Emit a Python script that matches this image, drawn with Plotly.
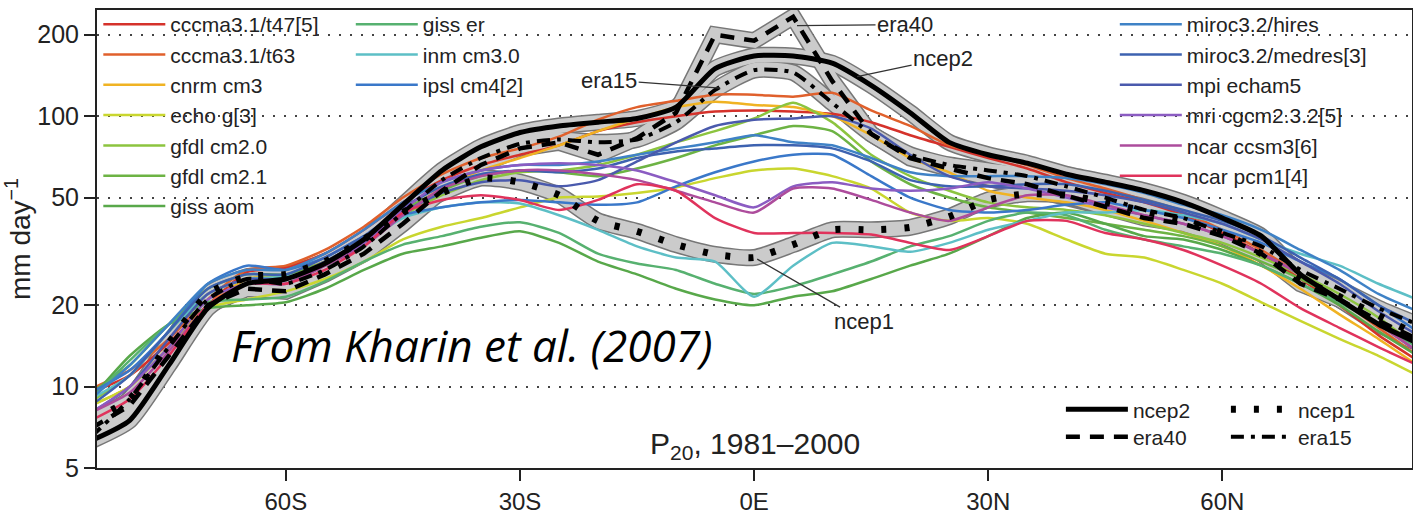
import numpy as np
import plotly.graph_objects as go

# ---------------- data ----------------
lat = [-85, -80, -75, -70, -65, -60, -55, -50, -45, -40, -35, -30, -25, -20, -15, -10, -5, 0,
       5, 10, 15, 20, 25, 30, 35, 40, 45, 50, 55, 60, 65, 70, 75, 80, 85]

x_tickvals = [-60, -30, 0, 30, 60]
x_ticktext = ["60S", "30S", "0E", "30N", "60N"]
y_tickvals = [5, 10, 20, 50, 100, 200]
y_ticktext = ["5", "10", "20", "50", "100", "200"]

# reanalyses
ncep2 = [6.3, 7.5, 12, 19.5, 24, 25, 28.5, 35, 47, 63, 77, 87, 92, 95, 98, 108, 150, 167,
         167, 157, 130, 103, 80, 72, 67, 61, 57, 53, 48, 42, 36, 26, 21, 17, 14.5]
ncep1 = [7.5, 9.0, 14.5, 22, 25.5, 26, 29, 35, 44, 52, 59, 57, 51, 41, 37.5, 33.5, 30.8, 30,
         33.5, 38, 38, 38.8, 42.5, 49, 51.6, 51, 48, 44.5, 41, 37, 31, 25, 21.5, 18.3, 15.5]
era40 = [7.0, 8.5, 13, 20, 23, 22.5, 26, 31, 40, 53, 66, 76, 80, 72, 83, 103, 200, 190,
         233, 135, 86, 70, 64, 59, 56, 51, 46, 42, 40, 36, 31, 24, 21, 17.5, 15]
era15 = [6.5, 9, 14, 21, 25, 24, 27, 33, 44, 58, 70, 79, 82, 80, 82, 95, 125, 148,
         145, 112, 86, 72, 66, 63, 60, 55, 50, 45, 42, 37, 33, 27, 23, 19.5, 17]

# models
cccma_t47 = [9.5, 11, 14.5, 20, 26.5, 27.5, 31, 38, 48, 58, 66, 72, 78, 88, 95, 100, 104, 105,
             104, 102, 95, 85, 77, 70, 64, 57, 52, 48, 43, 37, 31, 25, 20, 15.5, 12.5]
cccma_t63 = [9.8, 11.5, 15, 21, 27, 28, 32, 39, 50, 61, 70, 76, 84, 97, 108, 114, 120, 120,
             118, 122, 105, 92, 78, 72, 66, 59, 54, 49, 44, 38, 32, 26, 21, 16.5, 13]
cnrm_cm3 = [8.5, 10, 14, 20, 25, 26, 29, 35, 44, 54, 63, 70, 78, 88, 98, 108, 113, 110,
            108, 100, 85, 70, 62, 53, 50, 48, 45, 41, 37, 33, 28, 23, 18.5, 15, 12]
echo_g = [8.5, 10, 14, 19.5, 21, 22.5, 25, 29, 35, 39, 42, 46, 50, 50.5, 52, 54.5, 59, 63,
          64, 60, 54, 44, 41, 42, 40, 35, 31, 30, 27, 24, 20.5, 17.5, 15, 13, 11]
gfdl_cm20 = [8.8, 11, 16, 22, 25, 25.5, 28, 34, 43, 51, 58, 62, 63, 66, 72, 80, 88, 98,
             112, 95, 72, 60, 53, 48, 46, 45, 43, 40, 37, 34, 30, 26, 22, 18, 14]
gfdl_cm21 = [9.5, 12, 17, 23, 26, 26, 29, 35, 45, 53, 60, 63, 62, 60, 64, 70, 78, 85,
             92, 88, 68, 56, 50, 46, 44, 42, 40, 38, 36, 33, 29, 25, 21, 17, 13.5]
giss_aom = [9, 13, 17, 19.5, 20, 20.5, 23, 27, 31, 33, 35.5, 37.5, 34, 29, 26, 23, 21, 20,
            21.5, 22.5, 25, 28, 31, 36, 42, 44, 40, 36, 35, 32, 28, 24, 20, 16, 13]
giss_er = [9, 12.5, 17, 20.5, 21, 21.5, 24.5, 29, 33.5, 36, 39, 40.5, 37, 31, 28.5, 27, 24, 22,
           23.5, 26, 29, 33, 36, 41, 44, 43, 38, 35, 33, 31, 28, 24, 20.5, 17, 14]
inm_cm3 = [9, 11, 16, 22, 25, 25.5, 28, 34, 42, 46, 48, 47.5, 43, 38, 33, 30, 29, 21.5,
           28, 34, 33, 31.5, 34, 38, 41, 44, 44, 45, 43, 40, 35, 31, 28, 24, 21]
ipsl_cm4 = [9.5, 11.5, 16, 24, 28, 27, 30, 36, 43, 46, 48, 49, 48, 47, 48, 55, 62, 68,
            72, 72, 60, 50, 45, 44, 45, 47, 48, 45, 42, 38, 34, 29, 25, 20, 16]
miroc_hires = [9, 12, 17, 24, 27, 27, 31, 38, 48, 57, 63, 66, 66, 68, 72, 76, 80, 85,
               80, 78, 70, 62, 60, 60, 60, 59, 56, 52, 47, 43, 38, 32, 27, 22, 19]
miroc_medres = [8.5, 11, 16, 23, 26, 26, 30, 36, 46, 55, 61, 63, 62, 64, 70, 74, 76, 78,
                78, 76, 68, 58, 55, 55, 56, 56, 53, 49, 45, 41, 36, 30, 25, 20, 17]
mpi_echam5 = [8, 10, 15, 22, 25, 25, 29, 35, 44, 52, 57, 58, 55, 58, 68, 80, 92, 97,
              98, 100, 90, 72, 60, 55, 54, 53, 51, 48, 44, 40, 35, 29, 24, 19, 15.5]
mri_cgcm = [8, 10, 14, 21, 24, 24, 28, 34, 45, 57, 63, 66, 67, 66, 63, 57, 51, 46,
            55, 57, 54, 53, 54, 57, 54, 50, 46, 43, 40, 36, 31, 26, 21, 17, 13.5]
ncar_ccsm3 = [8, 9.5, 13.5, 20, 24, 24, 28, 33, 43, 54, 60, 63, 63, 61, 58, 53, 48, 44,
              54, 54, 49, 44, 41, 46, 51, 51, 47, 43, 40, 36, 31, 26, 21, 17, 13.5]
ncar_pcm1 = [7.5, 9, 13, 20, 24, 24, 27, 33, 44, 49, 51, 49, 45, 49, 56, 53, 42, 37,
             37, 37, 36.5, 34, 32, 36, 41, 41, 37, 35, 32, 28, 24, 19.5, 16.5, 14, 12]

model_names = ["cccma3.1/t47[5]", "cccma3.1/t63", "cnrm cm3", "echo g[3]", "gfdl cm2.0",
               "gfdl cm2.1", "giss aom", "giss er", "inm cm3.0", "ipsl cm4[2]",
               "miroc3.2/hires", "miroc3.2/medres[3]", "mpi echam5", "mri cgcm2.3.2[5]",
               "ncar ccsm3[6]", "ncar pcm1[4]"]
model_values = [cccma_t47, cccma_t63, cnrm_cm3, echo_g, gfdl_cm20, gfdl_cm21, giss_aom,
                giss_er, inm_cm3, ipsl_cm4, miroc_hires, miroc_medres, mpi_echam5, mri_cgcm,
                ncar_ccsm3, ncar_pcm1]

# ---------------- styles ----------------
model_colors = ["#d5322b", "#e0602c", "#f0b323", "#c9d62f", "#8cc43f", "#6db344", "#58a84a",
                "#57b170", "#5dbfc6", "#3a78c9", "#3f82c6", "#3d62b0", "#4a5aad", "#8b5cc2",
                "#ad4c9c", "#e0335c"]
model_legend = ["legend"] * 7 + ["legend2"] * 3 + ["legend3"] * 6

FONT = "Liberation Sans, Arial, Helvetica, sans-serif"

fig = go.Figure()

rean = [("ncep2", ncep2, dict(color="black", width=5), "legend4", "spline"),
        ("ncep1", ncep1, dict(color="black", width=7, dash="5px,18px"), "legend4", "spline"),
        ("era40", era40, dict(color="black", width=4.5, dash="14px,10px"), "legend5", "linear"),
        ("era15", era15, dict(color="black", width=4, dash="13px,7px,4px,7px"), "legend5", "spline")]

# grey uncertainty bands (drawn as wide strokes under the reanalysis curves)
for name, vals, _, _, shp in rean:
    fig.add_trace(go.Scatter(x=lat, y=vals, mode="lines", showlegend=False, hoverinfo="skip",
                             line=dict(color="#777777", width=17, shape=shp, smoothing=0.6)))
for name, vals, _, _, shp in rean:
    fig.add_trace(go.Scatter(x=lat, y=vals, mode="lines", showlegend=False, hoverinfo="skip",
                             line=dict(color="#cbcbcb", width=14, shape=shp, smoothing=0.6)))

for name, vals, col, lg in zip(model_names, model_values, model_colors, model_legend):
    fig.add_trace(go.Scatter(x=lat, y=vals, mode="lines", name=name, legend=lg,
                             line=dict(color=col, width=2.5, shape="spline", smoothing=0.6)))

for name, vals, ln, lg, shp in rean:
    fig.add_trace(go.Scatter(x=lat, y=vals, mode="lines", name=name, legend=lg,
                             line=dict(shape=shp, smoothing=0.6, **ln)))

legend_common = dict(bgcolor="rgba(0,0,0,0)", font=dict(family=FONT, size=21, color="#222"),
                     xanchor="left", yanchor="top", itemwidth=62, borderwidth=0)

fig.update_layout(
    width=1413, height=519,
    margin=dict(l=97, r=1, t=10, b=51),
    paper_bgcolor="white", plot_bgcolor="white",
    font=dict(family=FONT, color="#222"),
    legend=dict(x=0.001, y=1.013, **legend_common),
    legend2=dict(x=0.193, y=1.013, **legend_common),
    legend3=dict(x=0.774, y=1.013, **legend_common),
    legend4=dict(x=0.733, y=0.172, orientation="h", entrywidth=88, **legend_common),
    legend5=dict(x=0.733, y=0.112, orientation="h", entrywidth=88, **legend_common),
)

fig.update_xaxes(range=[-84.2, 84.3], tickvals=x_tickvals, ticktext=x_ticktext,
                 ticks="outside", ticklen=11, tickwidth=2, tickcolor="#222",
                 showline=True, linewidth=2, linecolor="#222", mirror=True,
                 showgrid=False, zeroline=False,
                 tickfont=dict(family=FONT, size=24, color="#222"))
fig.update_yaxes(type="log", range=[np.log10(5), 2.3925], tickvals=y_tickvals, ticktext=y_ticktext,
                 ticks="outside", ticklen=11, tickwidth=2, tickcolor="#222",
                 showline=True, linewidth=2, linecolor="#222", mirror=True,
                 showgrid=True, gridcolor="#444", gridwidth=2, griddash="2px,9px",
                 zeroline=False, automargin=False,
                 tickfont=dict(family=FONT, size=25, color="#222"),
                 title=dict(text="mm day<sup>−1</sup>", font=dict(family=FONT, size=28, color="#222"),
                            standoff=0))

ann_font = dict(family=FONT, size=22, color="#222")
labels = [("era40", 5.5, 216, 108, -1),
          ("ncep2", 13.2, 140, 86, -18),
          ("era15", -4.35, 127, -111, -8),
          ("ncep1", 0.4, 29.6, 107, 62)]
for txt, lx, ly, ax, ay in labels:
    fig.add_annotation(x=lx, y=np.log10(ly), xref="x", yref="y", text=txt, showarrow=True,
                       arrowhead=0, arrowwidth=1.3, arrowcolor="#333", ax=ax, ay=ay,
                       font=ann_font)

fig.add_annotation(x=0.5004, y=0.05, xref="paper", yref="paper", text="P<sub>20</sub>, 1981–2000",
                   showarrow=False, font=dict(family=FONT, size=30, color="#222"),
                   xanchor="center", yanchor="middle")
fig.add_annotation(x=0.285, y=0.2686, xref="paper", yref="paper",
                   text="<i>From Kharin et al. (2007)</i>", showarrow=False,
                   font=dict(family="Open Sans", size=44, color="black"),
                   xanchor="center", yanchor="middle")

fig.write_html("out.html")
